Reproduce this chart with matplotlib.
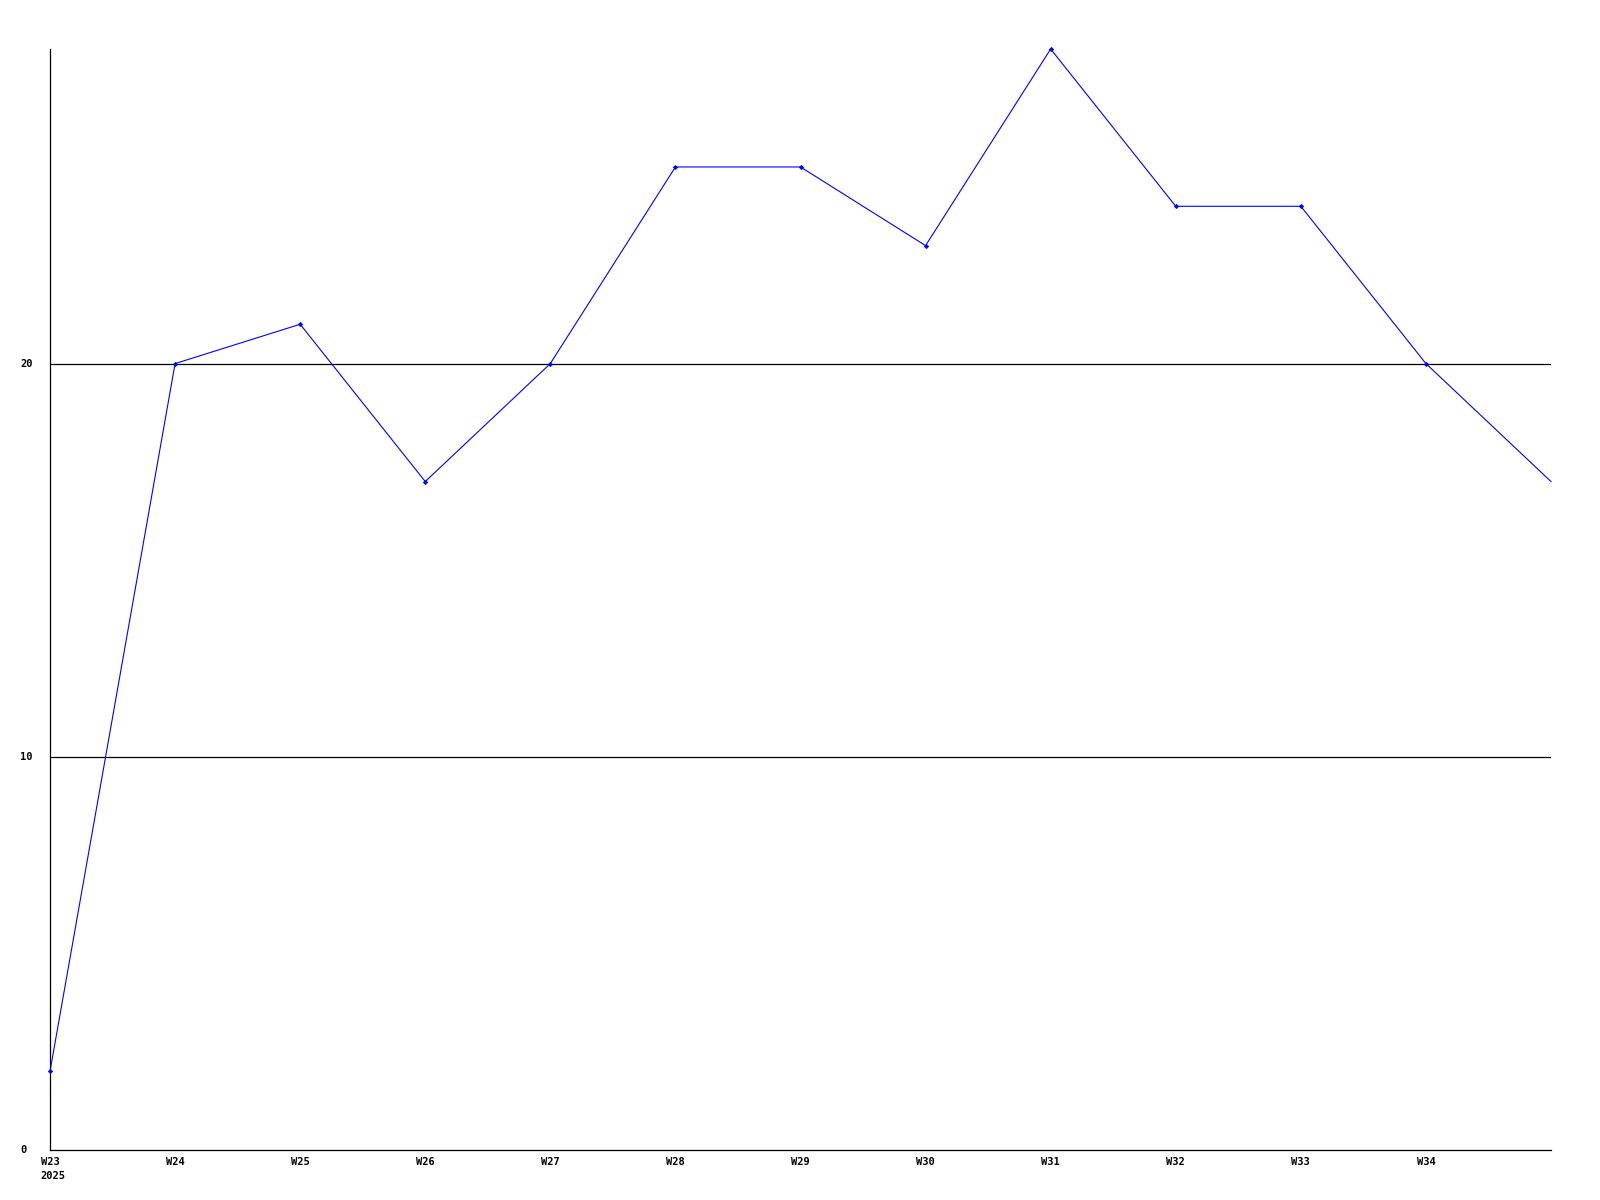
import matplotlib.pyplot as plt
from matplotlib.transforms import blended_transform_factory, offset_copy

weeks = ["W23", "W24", "W25", "W26", "W27", "W28", "W29", "W30", "W31", "W32", "W33", "W34", "W35"]
values = [2, 20, 21, 17, 20, 25, 25, 23, 28, 24, 24, 20, 17]
year_label = "2025"
ytick_vals = [0, 10, 20]

fig = plt.figure(figsize=(16, 12), dpi=100)
ax = fig.add_axes([50 / 1600, 50 / 1200, 1501 / 1600, 1101 / 1200])

x = list(range(len(weeks)))
# last point sits on the right edge, no marker there
ax.plot(x, values, color="blue", linewidth=0.8, marker="D", markersize=2.2,
        markeredgewidth=0.5, markevery=list(range(len(weeks) - 1)),
        zorder=3, clip_on=False)

ax.set_xlim(0, len(weeks) - 1)
ax.set_ylim(0, 28)

for v in ytick_vals[1:]:
    ax.axhline(v, color="black", linewidth=0.9, zorder=1)

for s in ["top", "right"]:
    ax.spines[s].set_visible(False)
for s in ["left", "bottom"]:
    ax.spines[s].set_linewidth(0.9)
    ax.spines[s].set_color("black")

font = dict(family="DejaVu Sans Mono", weight="bold", size=7.5)

ax.set_xticks(x[:-1])
ax.set_xticklabels(weeks[:-1], **font)
ax.tick_params(axis="x", length=0, pad=5)

ax.set_yticks([])
tr = blended_transform_factory(fig.transFigure, ax.transData)
for v in ytick_vals:
    ax.text(20 / 1600, v, str(v), transform=tr, ha="left", va="center", **font)

tr2 = offset_copy(ax.transData, fig=fig, x=-10, y=-21, units="dots")
ax.text(0, 0, year_label, transform=tr2, ha="left", va="top", **font)

fig.savefig("out.png", dpi=100, facecolor="white")
